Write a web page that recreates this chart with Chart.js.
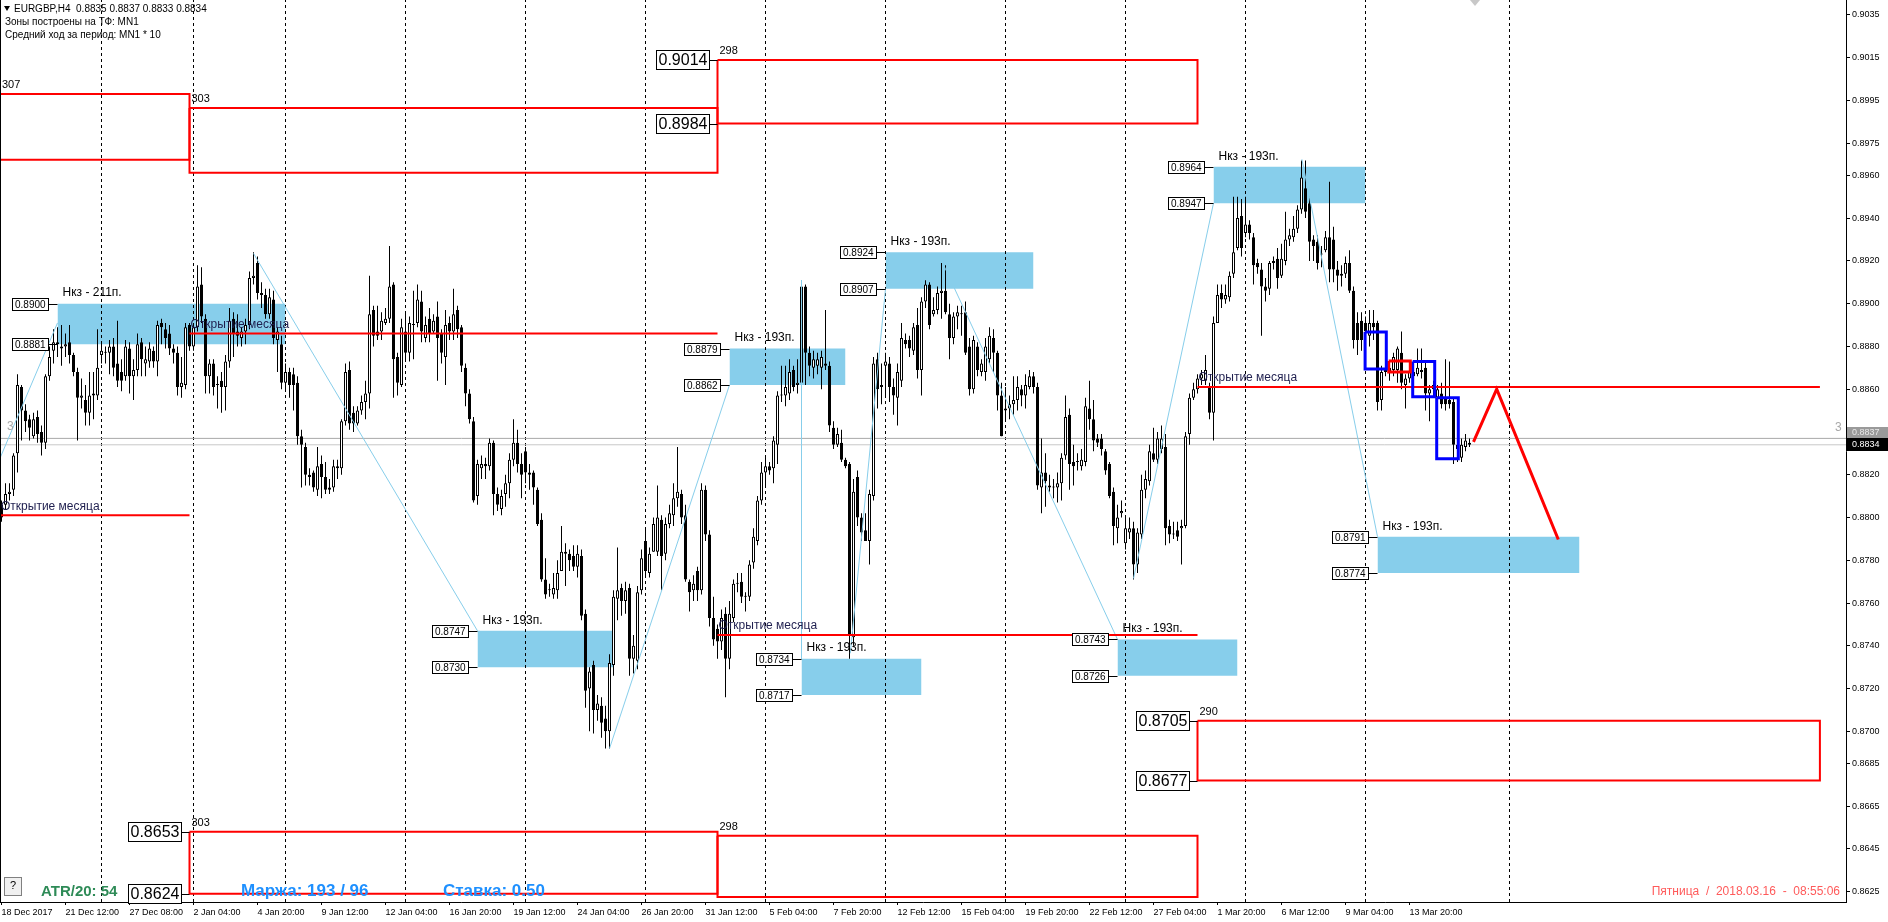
<!DOCTYPE html>
<html><head><meta charset="utf-8">
<script src="https://cdn.jsdelivr.net/npm/chart.js@4.4.1/dist/chart.umd.min.js"></script>
<style>html,body{margin:0;padding:0;background:#fff;overflow:hidden}canvas{display:block}</style>
</head><body><canvas id="c" width="1888" height="922"></canvas>
<script>
// ---- H4 candles, prices in pips (price * 10000), bar 0 = 18 Dec 2017 ----
const PIP = 10000;
const candleOpen = [
8806,8806,8811,8813,8830,8861,8850,8846,8838,8847, 8840,8835,8866,8878,8882,8879,8880,8882,8876,8868,
8856,8855,8849,8857,8857,8876,8877,8877,8880,8872, 8868,8866,8879,8866,8869,8882,8872,8873,8878,8873,
8891,8888,8886,8879,8877,8861,8862,8890,8880,8889, 8909,8893,8866,8872,8862,8864,8861,8873,8893,8887,
8884,8887,8890,8912,8919,8905,8904,8895,8902,8883, 8881,8863,8868,8867,8863,8838,8833,8820,8821,8813,
8825,8819,8814,8814,8824,8823,8845,8869,8849,8844, 8850,8854,8858,8897,8887,8887,8891,8893,8909,8875,
8862,8887,8877,8890,8891,8901,8884,8893,8887,8894, 8886,8875,8891,8887,8897,8889,8870,8858,8845,8810,
8823,8825,8824,8835,8811,8804,8811,8816,8827,8835, 8825,8831,8821,8821,8813,8799,8771,8766,8764,8766,
8775,8784,8783,8782,8777,8782,8755,8720,8731,8710, 8712,8706,8700,8731,8762,8767,8761,8767,8734,8733,
8766,8789,8774,8784,8784,8799,8783,8797,8801,8809, 8811,8801,8770,8766,8775,8766,8813,8792,8753,8748,
8742,8755,8734,8753,8769,8770,8763,8763,8779,8789, 8808,8821,8824,8823,8834,8857,8857,8858,8869,8862,
8863,8908,8877,8870,8871,8870,8872,8871,8842,8834, 8835,8827,8825,8744,8819,8800,8794,8789,8810,8874,
8862,8871,8872,8861,8856,8864,8883,8883,8878,8890, 8869,8901,8909,8895,8897,8905,8906,8895,8884,8894,
8895,8896,8880,8860,8880,8868,8868,8874,8884,8877, 8857,8850,8851,8853,8855,8860,8857,8861,8866,8861,
8814,8821,8815,8814,8814,8816,8829,8848,8826,8826, 8824,8826,8851,8846,8837,8837,8831,8825,8812,8795,
8802,8788,8793,8795,8778,8792,8813,8817,8830,8827, 8832,8833,8796,8792,8794,8795,8796,8839,8856,8860,
8865,8864,8861,8849,8891,8905,8902,8903,8914,8926, 8941,8933,8937,8931,8919,8916,8908,8907,8920,8921,
8913,8920,8930,8931,8935,8944,8954,8947,8930,8929, 8923,8925,8931,8930,8916,8913,8914,8919,8906,8891,
8892,8891,8885,8891,8891,8855,8869,8868,8869,8869, 8877,8862,8865,8868,8867,8869,8870,8858,8862,8856,
8858,8856,8855,8854,8834,8828,8833,8835];
const candleHigh = [
8808,8816,8816,8830,8867,8862,8853,8848,8849,8850, 8843,8867,8880,8888,8889,8890,8886,8890,8877,8870,
8865,8862,8868,8868,8888,8882,8880,8883,8884,8892, 8874,8883,8882,8874,8886,8884,8880,8882,8880,8892,
8893,8891,8890,8881,8880,8875,8891,8891,8891,8918, 8917,8895,8874,8874,8866,8868,8876,8898,8896,8895,
8889,8893,8915,8924,8922,8910,8907,8907,8906,8889, 8885,8872,8870,8870,8866,8841,8835,8823,8822,8833,
8829,8826,8818,8827,8827,8846,8872,8873,8852,8852, 8857,8864,8913,8899,8899,8896,8898,8927,8910,8877,
8893,8896,8894,8906,8909,8906,8894,8898,8895,8901, 8888,8897,8894,8907,8899,8890,8872,8860,8847,8827,
8829,8828,8837,8836,8814,8813,8820,8830,8846,8841, 8830,8833,8825,8822,8814,8802,8781,8769,8774,8780,
8796,8788,8785,8787,8787,8785,8757,8730,8733,8717, 8716,8712,8736,8766,8786,8769,8770,8769,8745,8768,
8785,8795,8786,8800,8815,8801,8800,8806,8816,8833, 8813,8806,8771,8773,8777,8816,8815,8794,8763,8750,
8757,8758,8761,8771,8774,8774,8765,8780,8795,8810, 8826,8828,8826,8838,8859,8871,8871,8874,8871,8874,
8911,8909,8880,8878,8877,8878,8897,8873,8845,8842, 8841,8828,8826,8818,8822,8802,8802,8813,8875,8877,
8872,8877,8875,8865,8872,8891,8886,8885,8891,8898, 8903,8911,8910,8903,8908,8919,8918,8900,8896,8899,
8899,8901,8884,8885,8882,8874,8884,8889,8888,8878, 8863,8861,8857,8866,8866,8862,8867,8869,8868,8863,
8837,8830,8820,8818,8821,8830,8857,8851,8834,8830, 8832,8856,8864,8855,8839,8839,8832,8826,8814,8806,
8808,8800,8800,8798,8795,8820,8822,8834,8842,8840, 8843,8839,8799,8798,8798,8799,8840,8858,8863,8867,
8869,8876,8863,8894,8909,8909,8909,8915,8950,8950, 8949,8950,8939,8933,8921,8919,8912,8920,8922,8926,
8928,8943,8935,8941,8946,8967,8967,8950,8932,8932, 8927,8934,8957,8936,8920,8918,8922,8925,8908,8896,
8896,8894,8897,8897,8892,8871,8871,8873,8877,8880, 8887,8867,8870,8872,8879,8879,8873,8862,8864,8862,
8863,8874,8873,8856,8836,8837,8839,8837];
const candleLow = [
8798,8804,8808,8810,8821,8836,8840,8836,8837,8835, 8829,8832,8864,8872,8875,8871,8875,8872,8866,8836,
8851,8843,8843,8846,8855,8872,8872,8867,8866,8861, 8859,8864,8858,8855,8866,8866,8866,8870,8870,8866,
8881,8879,8876,8872,8857,8856,8860,8878,8878,8887, 8891,8858,8858,8857,8851,8849,8850,8870,8875,8880,
8880,8881,8888,8909,8902,8898,8893,8893,8881,8868, 8860,8860,8856,8850,8834,8814,8815,8815,8812,8810,
8809,8811,8811,8812,8818,8820,8843,8841,8840,8843, 8848,8846,8851,8880,8883,8883,8890,8891,8856,8857,
8861,8873,8873,8874,8889,8882,8882,8882,8886,8864, 8872,8862,8883,8883,8884,8868,8852,8844,8807,8806,
8818,8818,8822,8801,8803,8801,8805,8809,8824,8821, 8809,8816,8813,8806,8796,8770,8762,8763,8762,8762,
8775,8768,8775,8775,8772,8752,8711,8700,8699,8705, 8697,8692,8692,8726,8752,8754,8755,8726,8727,8729,
8764,8772,8772,8784,8782,8766,8780,8795,8796,8805, 8797,8770,8756,8761,8761,8764,8789,8749,8740,8734,
8738,8716,8729,8751,8765,8760,8756,8761,8776,8787, 8806,8815,8820,8816,8825,8854,8852,8855,8859,8858,
8861,8862,8866,8865,8867,8860,8869,8840,8832,8833, 8826,8823,8734,8740,8796,8789,8789,8778,8808,8851,
8853,8856,8854,8848,8843,8861,8879,8875,8876,8865, 8857,8898,8888,8894,8895,8893,8895,8874,8881,8888,
8885,8876,8857,8858,8866,8866,8864,8872,8868,8850, 8838,8845,8846,8848,8850,8852,8851,8860,8858,8813,
8802,8805,8812,8809,8807,8808,8827,8813,8815,8822, 8822,8824,8841,8831,8833,8829,8820,8809,8787,8788,
8800,8785,8790,8771,8774,8790,8809,8815,8826,8825, 8830,8787,8788,8790,8789,8778,8795,8834,8855,8858,
8862,8862,8846,8836,8891,8898,8900,8901,8912,8925, 8922,8931,8930,8909,8914,8885,8901,8904,8916,8907,
8912,8918,8927,8929,8933,8942,8940,8920,8920,8916, 8917,8924,8910,8910,8906,8908,8912,8905,8879,8876,
8878,8882,8880,8883,8850,8850,8866,8864,8866,8863, 8860,8851,8863,8862,8866,8865,8850,8845,8856,8854,
8851,8850,8851,8825,8826,8826,8831,8833];
const candleClose = [
8800,8811,8812,8829,8862,8850,8845,8842,8846,8839, 8835,8866,8875,8882,8881,8880,8881,8876,8868,8856,
8857,8849,8857,8858,8870,8878,8877,8880,8870,8864, 8864,8880,8866,8869,8881,8874,8874,8879,8873,8890,
8889,8884,8879,8877,8861,8863,8889,8880,8889,8908, 8894,8866,8872,8861,8862,8861,8873,8892,8886,8885,
8887,8890,8912,8913,8905,8904,8895,8903,8884,8887, 8863,8868,8862,8862,8838,8834,8820,8819,8814,8824,
8819,8813,8813,8824,8823,8845,8868,8844,8844,8850, 8854,8858,8895,8885,8885,8892,8893,8908,8874,8863,
8889,8877,8891,8890,8902,8887,8890,8886,8892,8884, 8877,8890,8887,8895,8888,8871,8858,8846,8808,8825,
8825,8824,8835,8811,8806,8810,8816,8827,8835,8825, 8820,8821,8820,8814,8797,8771,8764,8766,8767,8774,
8784,8783,8780,8777,8783,8754,8719,8728,8710,8713, 8704,8700,8732,8763,8766,8761,8766,8734,8740,8765,
8781,8775,8783,8797,8800,8782,8797,8802,8809,8812, 8800,8771,8765,8769,8766,8813,8792,8753,8743,8742,
8753,8734,8755,8769,8769,8763,8763,8778,8791,8808, 8821,8824,8822,8836,8857,8857,8861,8868,8861,8863,
8908,8877,8871,8874,8874,8875,8871,8843,8834,8839, 8827,8824,8745,8812,8800,8793,8789,8811,8872,8860,
8861,8873,8861,8857,8868,8884,8881,8879,8889,8869, 8901,8909,8890,8897,8905,8906,8896,8884,8894,8896,
8895,8877,8860,8883,8869,8872,8880,8885,8877,8857, 8838,8851,8853,8855,8861,8857,8862,8866,8861,8815,
8821,8817,8814,8814,8816,8828,8847,8825,8824,8826, 8827,8852,8846,8836,8835,8832,8822,8810,8796,8800,
8803,8795,8795,8778,8793,8813,8818,8831,8827,8837, 8837,8795,8792,8792,8791,8796,8838,8856,8860,8865,
8867,8869,8849,8891,8904,8902,8904,8913,8924,8940, 8926,8937,8933,8918,8917,8908,8906,8919,8919,8912,
8921,8930,8932,8935,8944,8959,8943,8929,8927,8919, 8923,8931,8916,8916,8913,8914,8919,8906,8883,8883,
8883,8887,8891,8889,8854,8868,8868,8870,8875,8879, 8863,8865,8868,8866,8870,8868,8858,8860,8860,8860,
8853,8853,8853,8834,8832,8834,8836,8834];

// ---- axes ----
const xTickBars = [0,16,32,48,64,80,96,112,128,144,160,176,192,208,224,240,256,272,288,304,320,336,352];
const xTickLabels = ['18 Dec 2017','21 Dec 12:00','27 Dec 08:00','2 Jan 04:00','4 Jan 20:00','9 Jan 12:00',
 '12 Jan 04:00','16 Jan 20:00','19 Jan 12:00','24 Jan 04:00','26 Jan 20:00','31 Jan 12:00','5 Feb 04:00',
 '7 Feb 20:00','12 Feb 12:00','15 Feb 04:00','19 Feb 20:00','22 Feb 12:00','27 Feb 04:00','1 Mar 20:00',
 '6 Mar 12:00','9 Mar 04:00','13 Mar 20:00'];
const yTickValues = [0.9035,0.9015,0.8995,0.8975,0.8960,0.8940,0.8920,0.8900,0.8880,0.8860,0.8840,
 0.8820,0.8800,0.8780,0.8760,0.8740,0.8720,0.8700,0.8685,0.8665,0.8645,0.8625];
const xMin = -0.375, xMax = 461.125, yMin = 0.86202, yMax = 0.90420;

// ---- week separators (bar index) ----
const separatorBars = [25,48,71,101,131,161,191,221,251,281,311,341,377];

// ---- demand/supply zones (sky blue) ----
const zoneStart  = [14, 119, 182, 200, 221, 279, 303, 344];
const zoneEnd    = [71, 153, 211, 230, 258, 309, 341, 394.5];
const zoneTop    = [0.8900,0.8747,0.8879,0.8734,0.8924,0.8743,0.8964,0.8791];
const zoneBottom = [0.8881,0.8730,0.8862,0.8717,0.8907,0.8726,0.8947,0.8774];
const zoneCaption = ['Нкз - 211п.','Нкз - 193п.','Нкз - 193п.','Нкз - 193п.','Нкз - 193п.','Нкз - 193п.','Нкз - 193п.','Нкз - 193п.'];

// ---- monthly range boxes (red) ----
const boxStart  = [-5, 47, 179, 47, 179, 299];
const boxEnd    = [47, 179, 299, 179, 299, 454.6];
const boxTop    = [0.8998, 0.89915, 0.9014, 0.8653, 0.86512, 0.8705];
const boxBottom = [0.89673, 0.89612, 0.89842, 0.8624, 0.86225, 0.8677];
const boxCaption = ['307','303','298','303','298','290'];
const boxPriceLabels = [false, false, true, true, false, true];

// ---- month open lines ----
const monthStart = [-2, 47, 179, 299];
const monthEnd   = [47, 179, 299, 454.6];
const monthOpen  = [0.8801, 0.8886, 0.8745, 0.8861];

// ---- zigzag (light blue) ----
const zigFromBar   = [-1, 63, 152, 200, 212.2, 235.3, 283, 325.1];
const zigFromPrice = [0.8825, 0.89235, 0.8692, 0.8911, 0.87365, 0.8919, 0.87715, 0.89675];
const zigToBar     = [14, 119, 182, 200, 221, 279, 303, 344];
const zigToPrice   = [0.8891, 0.8747, 0.8862, 0.8734, 0.8907, 0.8743, 0.8947, 0.8791];

// ---- small rectangles at the end ----
const rectStart  = [340.9, 346.8, 352.8, 358.8];
const rectEnd    = [346.2, 352.2, 358.3, 364.2];
const rectTop    = [0.88867, 0.88732, 0.88729, 0.8856];
const rectBottom = [0.88694, 0.8868, 0.88565, 0.88275];
const rectColor  = ['#0000FF','#FF0000','#0000FF','#0000FF'];

// ---- forecast ----
const forecastBars   = [368, 373.8, 389.2];
const forecastPrices = [0.88354, 0.8860, 0.87897];

const bidPrice = 0.8834, askPrice = 0.8837;

// ---------------- datasets ----------------
const FONT = '"Liberation Sans", Arial, sans-serif';
const ds = [];
const lineDs = (data, color, width, order, extra) => Object.assign({
  type:'line', data, borderColor: color, borderWidth: width, pointRadius: 0, fill: false,
  tension: 0, order, backgroundColor: 'rgba(0,0,0,0)'
}, extra || {});

zoneStart.forEach((s,i) => ds.push(lineDs(
  [{x:s, y:zoneTop[i]}, {x:zoneEnd[i], y:zoneTop[i]}], 'rgba(0,0,0,0)', 0, 100,
  {fill:{value: zoneBottom[i]}, backgroundColor:'#87CEEB'})));

separatorBars.forEach(b => ds.push(lineDs(
  [{x:b, y:yMin}, {x:b, y:yMax}], '#000000', 1, 95, {borderDash:[3,3]})));

ds.push(lineDs([{x:xMin, y:askPrice}, {x:xMax, y:askPrice}], '#A8A8A8', 1, 94));
ds.push(lineDs([{x:xMin, y:bidPrice}, {x:xMax, y:bidPrice}], '#C8C8C8', 1, 94));

ds.push({
  type:'bar', order: 90, grouped:false, barThickness:1, maxBarThickness:1, inflateAmount:0,
  data: candleHigh.map((h,i) => ({x:i, y:[candleLow[i]/PIP, h/PIP]})),
  backgroundColor:'#000', borderWidth:0
});
ds.push({
  type:'bar', order: 89, grouped:false, barThickness:3, maxBarThickness:3, inflateAmount:0, minBarLength:1,
  data: candleOpen.map((o,i) => ({x:i, y:[o/PIP, candleClose[i]/PIP]})),
  backgroundColor: candleOpen.map((o,i) => candleClose[i] > o ? '#FFFFFF' : '#000000'),
  borderColor:'#000', borderWidth:1, borderSkipped:false
});

zigFromBar.forEach((b,i) => ds.push(lineDs(
  [{x:b, y:zigFromPrice[i]}, {x:zigToBar[i], y:zigToPrice[i]}], '#87CEEB', 1, 85)));

boxStart.forEach((s,i) => {
  const e = boxEnd[i], t = boxTop[i], b = boxBottom[i];
  const pts = s < xMin ? [{x:s,y:t},{x:e,y:t},{x:e,y:b},{x:s,y:b}]
                       : [{x:s,y:t},{x:e,y:t},{x:e,y:b},{x:s,y:b},{x:s,y:t}];
  ds.push(lineDs(pts, '#FF0000', 2, 80));
});
monthStart.forEach((s,i) => ds.push(lineDs(
  [{x:s, y:monthOpen[i]}, {x:monthEnd[i], y:monthOpen[i]}], '#FF0000', 2, 79)));

rectStart.forEach((s,i) => {
  const e = rectEnd[i], t = rectTop[i], b = rectBottom[i];
  ds.push(lineDs([{x:s,y:t},{x:e,y:t},{x:e,y:b},{x:s,y:b},{x:s,y:t}], rectColor[i], 3, 70));
});
ds.push(lineDs(forecastBars.map((b,i) => ({x:b, y:forecastPrices[i]})), '#FF0000', 3, 60));

// ---------------- overlay texts ----------------
function priceBox(ctx, rightX, cy, text, size, padX, h) {
  ctx.font = size + 'px ' + FONT;
  const w = Math.round(ctx.measureText(text).width + padX * 2);
  const x = Math.round(rightX - w) + 0.5, y = Math.round(cy - h / 2) + 0.5;
  ctx.fillStyle = '#fff'; ctx.fillRect(x, y, w, h);
  ctx.strokeStyle = '#000'; ctx.lineWidth = 1; ctx.strokeRect(x, y, w, h);
  ctx.fillStyle = '#000'; ctx.textAlign = 'left'; ctx.textBaseline = 'middle';
  ctx.fillText(text, x + padX, y + h / 2 + 0.5);
}
function connector(ctx, x1, x2, y) {
  ctx.strokeStyle = '#000'; ctx.lineWidth = 1;
  ctx.beginPath(); ctx.moveTo(x1, Math.round(y) + 0.5); ctx.lineTo(x2, Math.round(y) + 0.5); ctx.stroke();
}

const overlay = {
  id: 'overlay',
  beforeDraw(chart) {
    const c = chart.ctx; c.save(); c.fillStyle = '#fff'; c.fillRect(0, 0, chart.width, chart.height); c.restore();
  },
  afterDatasetsDraw(chart) {
    const ctx = chart.ctx, X = chart.scales.x, Y = chart.scales.y;
    ctx.save();
    ctx.font = '12px ' + FONT; ctx.fillStyle = '#A8A8A8'; ctx.textBaseline = 'middle'; ctx.textAlign = 'left';
    ctx.fillText('3', 7, 427);
    zoneStart.forEach((s, i) => {
      const lx = X.getPixelForValue(s);
      ctx.font = '12px ' + FONT; ctx.fillStyle = '#000'; ctx.textAlign = 'left'; ctx.textBaseline = 'middle';
      ctx.fillText(zoneCaption[i], lx + 5, Y.getPixelForValue(zoneTop[i]) - 10.5);
      [zoneTop[i], zoneBottom[i]].forEach(p => {
        const yy = Y.getPixelForValue(p);
        connector(ctx, lx - 10, lx, yy);
        priceBox(ctx, lx - 10, yy, p.toFixed(4), 10, 2.5, 12);
      });
    });
    monthStart.forEach((s, i) => {
      const lx = Math.max(X.getPixelForValue(s), 0);
      ctx.font = '12px ' + FONT; ctx.fillStyle = '#1f1f4f'; ctx.textAlign = 'left'; ctx.textBaseline = 'middle';
      ctx.fillText('Открытие месяца', lx + 1, Y.getPixelForValue(monthOpen[i]) - 9);
    });
    boxStart.forEach((s, i) => {
      const lx = X.getPixelForValue(s);
      ctx.font = '11px ' + FONT; ctx.fillStyle = '#000'; ctx.textAlign = 'left'; ctx.textBaseline = 'middle';
      ctx.fillText(boxCaption[i], Math.max(lx, 0) + 2, Y.getPixelForValue(boxTop[i]) - 9);
      if (boxPriceLabels[i]) {
        [boxTop[i], boxBottom[i]].forEach(p => {
          const yy = Y.getPixelForValue(p);
          connector(ctx, lx - 9, lx, yy);
          priceBox(ctx, lx - 9, yy, p.toFixed(4), 16, 2, 19);
        });
      }
    });
    ctx.restore();
  },
  afterDraw(chart) {
    const ctx = chart.ctx, Y = chart.scales.y, area = chart.chartArea;
    ctx.save();
    ctx.strokeStyle = '#000'; ctx.lineWidth = 1;
    ctx.beginPath(); ctx.moveTo(0.5, 0); ctx.lineTo(0.5, area.bottom); ctx.stroke();
    ctx.fillStyle = '#C8C8C8';
    ctx.beginPath(); ctx.moveTo(1470, 0); ctx.lineTo(1480, 0); ctx.lineTo(1475, 6); ctx.closePath(); ctx.fill();
    const n = candleClose.length - 1;
    ctx.fillStyle = '#000';
    ctx.beginPath(); ctx.moveTo(4, 6); ctx.lineTo(10, 6); ctx.lineTo(7, 11); ctx.closePath(); ctx.fill();
    ctx.font = '10px ' + FONT; ctx.textAlign = 'left'; ctx.textBaseline = 'middle';
    ctx.fillText('EURGBP,H4  ' + [candleOpen[n], candleHigh[n], candleLow[n], candleClose[n]].map(v => (v / PIP).toFixed(4)).join(' '), 14, 9);
    ctx.fillText('Зоны построены на ТФ: MN1', 5, 22);
    ctx.fillText('Средний ход за период: MN1 * 10', 5, 35);
    ctx.font = '12px ' + FONT; ctx.fillStyle = '#A8A8A8';
    ctx.fillText('3', 1835, 428);
    const by = Y.getPixelForValue(bidPrice);
    const top = Math.round(by - 7);
    ctx.fillStyle = '#9A9A9A'; ctx.fillRect(1847, top - 11, 41, 11);
    ctx.fillStyle = '#000'; ctx.fillRect(1847, top, 41, 13);
    ctx.font = '9px ' + FONT; ctx.textBaseline = 'middle';
    ctx.fillStyle = '#E8E8E8'; ctx.fillText(askPrice.toFixed(4), 1852, top - 5);
    ctx.fillStyle = '#FFF'; ctx.fillText(bidPrice.toFixed(4), 1852, top + 6.5);
    ctx.fillStyle = '#F0F0F0'; ctx.fillRect(4.5, 877.5, 17, 18);
    ctx.strokeStyle = '#808080'; ctx.strokeRect(4.5, 877.5, 17, 18);
    ctx.fillStyle = '#000'; ctx.font = '11px ' + FONT; ctx.textAlign = 'center';
    ctx.fillText('?', 13, 886);
    ctx.textAlign = 'left';
    ctx.font = 'bold 15px ' + FONT;
    ctx.fillStyle = '#2E8B57'; ctx.fillText('ATR/20: 54', 41, 892);
    ctx.font = 'bold 17px ' + FONT;
    ctx.fillStyle = '#1E90FF'; ctx.fillText('Маржа: 193 / 96', 241, 891);
    ctx.fillText('Ставка: 0.50', 443, 891);
    ctx.font = '12px ' + FONT; ctx.fillStyle = '#FF5A5A'; ctx.textAlign = 'right';
    ctx.fillText('Пятница  /  2018.03.16  -  08:55:06', 1840, 892);
    ctx.restore();
  }
};

new Chart(document.getElementById('c'), {
  type: 'bar',
  data: { datasets: ds },
  options: {
    responsive: false, devicePixelRatio: 1, animation: false, events: [],
    layout: { padding: 0 },
    elements: { point: { radius: 0 }, line: { tension: 0 } },
    plugins: { legend: { display: false }, tooltip: { enabled: false } },
    scales: {
      x: {
        type: 'linear', position: 'bottom', min: xMin, max: xMax, offset: false, bounds: 'data',
        grid: { display: true, drawOnChartArea: false, drawTicks: true, tickLength: 3, color: '#000', offset: false },
        border: { display: true, color: '#000', width: 1 },
        afterBuildTicks: s => { s.ticks = xTickBars.map(v => ({ value: v })); },
        afterFit: s => { s.height = 20; s.paddingLeft = 0; s.paddingRight = 0; },
        ticks: { autoSkip: false, maxRotation: 0, minRotation: 0, align: 'start', padding: 2,
          color: '#000', font: { family: FONT, size: 9 },
          callback: (v, i) => xTickLabels[i] }
      },
      y: {
        type: 'linear', position: 'right', min: yMin, max: yMax, bounds: 'data',
        grid: { display: true, drawOnChartArea: false, drawTicks: true, tickLength: 4, color: '#000' },
        border: { display: true, color: '#000', width: 1 },
        afterBuildTicks: s => { s.ticks = yTickValues.map(v => ({ value: v })); },
        afterFit: s => { s.width = 42; s.paddingTop = 0; s.paddingBottom = 0; },
        ticks: { padding: 2, color: '#000', font: { family: FONT, size: 9 },
          callback: v => Number(v).toFixed(4) }
      }
    }
  },
  plugins: [overlay]
});
</script>
</body></html>
